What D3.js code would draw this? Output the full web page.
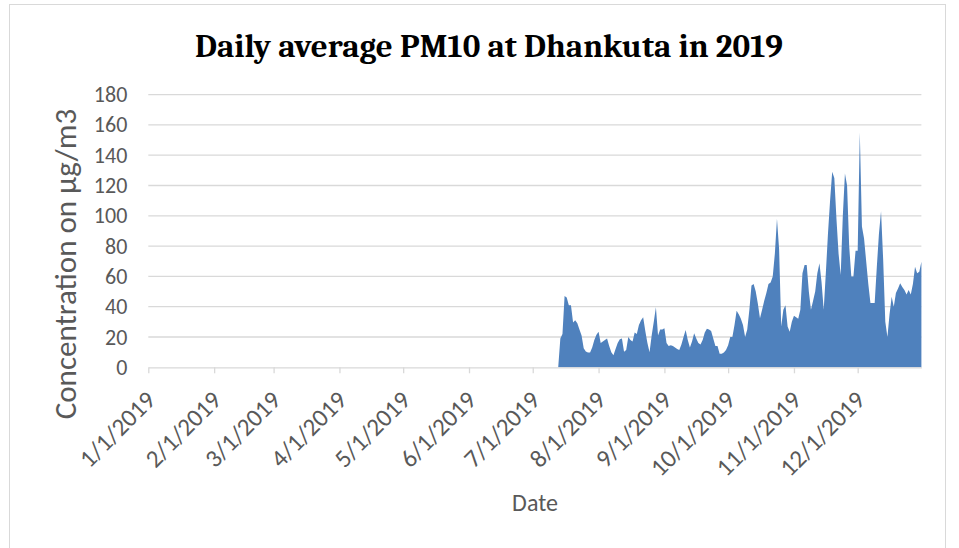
<!DOCTYPE html>
<html>
<head>
<meta charset="utf-8">
<script src="https://cdn.jsdelivr.net/npm/d3@7"></script>
<style>
  body { margin: 0; background: #fff; }
  #my_dataviz { width: 959px; height: 548px; }
</style>
</head>
<body>
<div id="my_dataviz"></div>
<script>
// data: daily values starting 7/13/2019
var startDate = "2019-07-13";
var pm10 = [
  0, 19, 22, 47, 46, 41, 41, 29.5, 31, 29,
  25, 21, 12.5, 10.5, 9.7, 9.7, 13, 18, 21.5, 23.5,
  16, 17, 18, 19, 14, 10, 8, 12, 16, 18.5,
  19, 10.3, 11.5, 20, 18, 17, 23, 22, 28, 31,
  33, 24, 16, 10, 21, 30, 39.6, 21, 25, 25,
  25.7, 16, 14, 14.5, 14, 13, 12, 11.4, 15, 20,
  24.6, 18, 13, 17, 22.4, 19, 16, 15, 18, 23,
  25.5, 25, 24, 19, 14, 14, 9, 9, 9.8, 11.4,
  14.6, 20, 20, 28, 37.4, 35, 32, 28, 20, 25,
  38, 54, 55, 50, 42, 32.3, 38, 44, 49, 55,
  56, 60, 75, 98, 78, 27, 38, 41, 27, 23.5,
  30, 34, 33, 32, 38, 62, 67.5, 67.5, 50, 38,
  44, 50, 62, 68.6, 56, 38, 62, 88, 110, 129,
  125, 98, 75, 61, 100, 128, 120, 80, 60, 60,
  77, 77, 155, 93, 85, 70, 55, 42.5, 42.5, 42.5,
  66, 88, 103, 71, 30, 20, 35, 46.6, 40, 49,
  52, 55.4, 53, 51, 48, 51, 48, 55, 66.4, 62,
  63, 69.7
];
var monthTicks = ["1/1/2019", "2/1/2019", "3/1/2019", "4/1/2019", "5/1/2019", "6/1/2019",
  "7/1/2019", "8/1/2019", "9/1/2019", "10/1/2019", "11/1/2019", "12/1/2019"];
var yTicks = [0, 20, 40, 60, 80, 100, 120, 140, 160, 180];

var chartTitle = "Daily average PM10 at Dhankuta in 2019";
var yTitle = "Concentration on µg/m3";
var xTitle = "Date";

var fontSans = "Carlito, Calibri, Lato, sans-serif";
var textGrey = "#595959";

var svg = d3.select("#my_dataviz")
  .append("svg")
    .attr("width", 959)
    .attr("height", 548);

// chart border
svg.append("rect")
  .attr("x", 9.5)
  .attr("y", 4.5)
  .attr("width", 936)
  .attr("height", 570)
  .attr("fill", "none")
  .attr("stroke", "#d9d9d9")
  .attr("stroke-width", 1);

var parseDate = d3.timeParse("%Y-%m-%d");
var parseTick = d3.timeParse("%m/%d/%Y");
var day0 = parseDate(startDate);

var dataL = pm10.map(function(v, i) {
  return { date: d3.timeDay.offset(day0, i), value: v };
});

var x = d3.scaleTime()
  .domain([parseDate("2019-01-01"), parseDate("2019-12-31")])
  .range([148.3, 921.4]);

var y = d3.scaleLinear()
  .domain([0, 180])
  .range([367.3, 94.6]);

// gridlines
svg.append("g")
  .selectAll("line")
  .data(yTicks.filter(function(d) { return d > 0; }))
  .enter().append("line")
    .attr("x1", x.range()[0])
    .attr("x2", x.range()[1])
    .attr("y1", function(d) { return y(d); })
    .attr("y2", function(d) { return y(d); })
    .attr("stroke", "#d9d9d9")
    .attr("stroke-width", 1.3);

// the area
svg.append("path")
  .datum(dataL)
  .attr("fill", "#4f81bd")
  .attr("stroke", "none")
  .attr("d", d3.area()
    .x(function(d) { return x(d.date); })
    .y0(y(0))
    .y1(function(d) { return y(d.value); })
  );

// y axis
var yAx = svg.append("g")
  .attr("transform", "translate(" + x.range()[0] + ",0)")
  .call(d3.axisLeft(y).tickValues(yTicks).tickSize(0).tickPadding(21));
yAx.select(".domain").remove();
yAx.selectAll("text")
  .attr("fill", textGrey)
  .style("font-family", fontSans)
  .style("font-size", "22px");

// x axis
var xAx = svg.append("g")
  .attr("transform", "translate(0," + y(0) + ")")
  .call(d3.axisBottom(x)
    .tickValues(monthTicks.map(function(t) { return parseTick(t); }))
    .tickFormat(function(d, i) { return monthTicks[i]; })
    .tickSizeInner(6)
    .tickSizeOuter(0));
xAx.select(".domain")
  .attr("stroke", "#d9d9d9")
  .attr("stroke-width", 1.3);
xAx.selectAll(".tick line")
  .attr("stroke", "#d9d9d9")
  .attr("stroke-width", 1.3);
xAx.selectAll("text")
  .attr("fill", textGrey)
  .style("font-family", fontSans)
  .style("font-size", "25px")
  .style("text-anchor", "end")
  .attr("x", 0)
  .attr("y", 0)
  .attr("dy", "0.35em")
  .attr("transform", "translate(2,28) rotate(-45)");

// titles
svg.append("text")
  .attr("x", 489)
  .attr("y", 57)
  .attr("text-anchor", "middle")
  .style("font-family", "Caladea, Cambria, 'Liberation Serif', serif")
  .style("font-weight", "bold")
  .style("font-size", "33px")
  .attr("fill", "#000")
  .text(chartTitle);

svg.append("text")
  .attr("transform", "translate(76,264) rotate(-90)")
  .attr("text-anchor", "middle")
  .style("font-family", fontSans)
  .style("font-size", "31px")
  .attr("fill", textGrey)
  .text(yTitle);

svg.append("text")
  .attr("x", 535)
  .attr("y", 511)
  .attr("text-anchor", "middle")
  .style("font-family", fontSans)
  .style("font-size", "24px")
  .attr("fill", textGrey)
  .text(xTitle);
</script>
</body>
</html>
